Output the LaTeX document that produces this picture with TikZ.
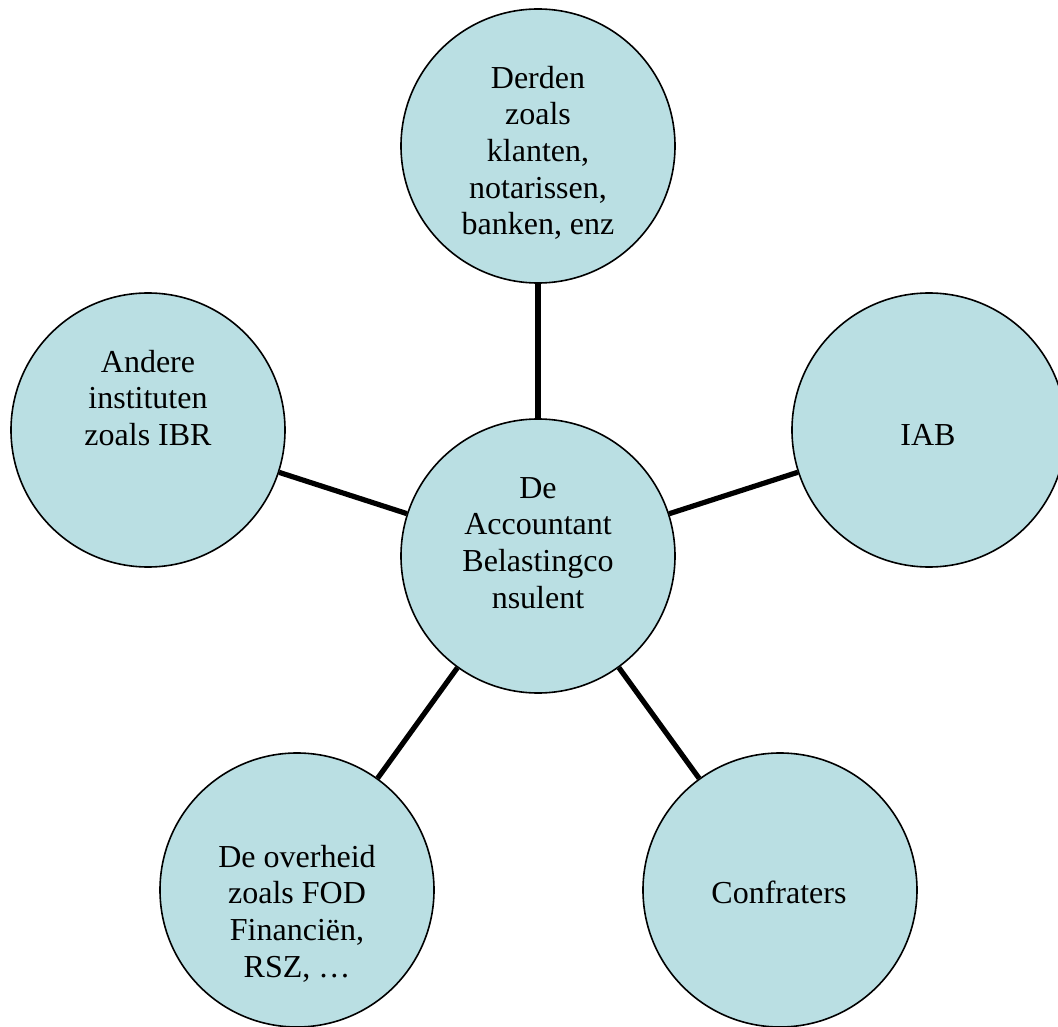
\documentclass[tikz,border=0pt]{standalone}
\usepackage{fontspec}
\setmainfont{Liberation Serif}
\definecolor{circfill}{RGB}{186,223,227}
\newcommand\mystrut{\rule{0pt}{18pt}}
\begin{document}
\begin{tikzpicture}[x=0.75pt,y=-0.75pt,
  bubble/.style={circle,draw=black,line width=1.2pt,fill=circfill,minimum size=205.5pt,inner sep=0pt},
  txt/.style={anchor=north,align=center,inner sep=0pt,font=\fontsize{24}{27.5}\selectfont},
  link/.style={line width=3.9pt}]
\clip (0,0) rectangle (1058,1027);
% circles
\node[bubble] (top) at (538,146) {};
\node[bubble] (left) at (148,430) {};
\node[bubble] (right) at (929,430) {};
\node[bubble] (center) at (538,556) {};
\node[bubble] (bl) at (297,890) {};
\node[bubble] (br) at (780,890) {};
% connectors
\draw[link] (center) -- (top);
\draw[link] (center) -- (left);
\draw[link] (center) -- (right);
\draw[link] (center) -- (bl);
\draw[link] (center) -- (br);
% texts
\node[txt] (tTop) at (538,64) {\mystrut Derden\\zoals\\klanten,\\notarissen,\\banken, enz};
\node[txt] (tLeft) at (148,348) {\mystrut Andere\\instituten\\zoals IBR};
\node[txt] (tRight) at (928,421) {\mystrut IAB};
\node[txt] (tCenter) at (538,474) {\mystrut De\\Accountant\\Belastingco\\nsulent};
\node[txt] (tBL) at (297,843) {\mystrut De overheid\\zoals FOD\\Financiën,\\RSZ, …};
\node[txt] (tBR) at (779,879) {\mystrut Confraters};
\end{tikzpicture}
\end{document}
